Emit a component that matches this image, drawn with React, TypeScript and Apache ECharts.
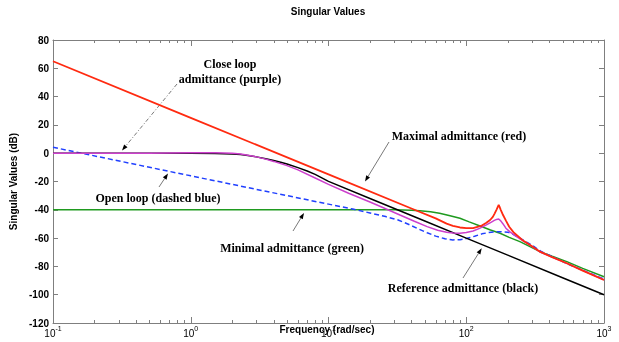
import React, { useEffect, useRef } from "react";
import * as echarts from "echarts";

// ---- data ----
const minorTicks = [
  0.2, 0.3, 0.4, 0.5, 0.6, 0.7, 0.8, 0.9,
  2, 3, 4, 5, 6, 7, 8, 9,
  20, 30, 40, 50, 60, 70, 80, 90,
  200, 300, 400, 500, 600, 700, 800, 900,
];

const redFreq = [0.1, 1, 10, 40, 60, 72, 80, 90, 100, 112, 128, 140, 149, 156, 161, 166, 170, 172, 174, 178, 185, 195, 205, 220, 255, 300, 343, 420, 537, 700, 1000];
const redDb = [65, 25, -15, -39.1, -46.1, -49.8, -51.3, -52.5, -53, -53, -51.4, -49.2, -47.2, -45, -42.5, -39.8, -37.6, -36.6, -37.6, -40, -43.7, -48, -52, -55.8, -61.3, -65.8, -69.6, -73.5, -77.8, -83, -89.6];

const blackFreq = [0.1, 1, 1.5, 2, 2.3, 2.6, 3, 3.5, 4, 4.5, 5, 6, 7, 8, 10, 20, 50, 100, 200, 500, 1000];
const blackDb = [0, -0.05, -0.2, -0.6, -1.0, -1.6, -2.6, -3.9, -5.2, -6.4, -7.6, -10.2, -12.6, -15, -19.9, -32, -47.9, -60, -72, -88, -100];

const purpleFreq = [0.1, 0.5, 1, 1.5, 2, 2.3, 2.6, 3, 3.5, 4, 5, 6, 8, 10, 14, 20, 26, 33, 42, 52, 62, 72, 80, 90, 100, 112, 125, 140, 150, 160, 166, 172, 178, 185, 194, 210, 232, 260, 290, 343, 537, 1000];
const purpleDb = [0, 0, 0.3, 0.4, 0, -0.6, -1.4, -2.6, -4.2, -5.8, -8.8, -11.8, -17.5, -22, -28.3, -34.5, -39.3, -43.7, -48.1, -51.9, -54.4, -55.9, -56.4, -56.6, -56.1, -55, -53.1, -50.7, -49.0, -47.5, -46.8, -46.5, -47.8, -50, -53, -56, -59, -62.2, -64.9, -69.8, -77.9, -89.4];

const blueFreq = [0.1, 1, 5, 10, 15, 20, 26, 32, 38, 45, 52, 60, 70, 80, 90, 100, 115, 130, 145, 160, 180, 200, 215, 230, 260, 300, 350, 537, 1000];
const blueDb = [4.2, -16, -30, -36, -39.5, -42.2, -44.8, -47.2, -50.2, -53.5, -56.2, -58.6, -60.5, -61.3, -61.1, -60.3, -58.7, -57, -56.1, -55.6, -55.5, -55.8, -56.9, -58.5, -61.5, -65, -69.5, -78, -89];

const greenFreq = [0.1, 20, 30, 40, 46, 55, 64, 75, 90, 105, 126, 150, 176, 205, 245, 290, 343, 420, 537, 700, 1000];
const greenDb = [-40, -40, -40, -40.3, -40.6, -41.4, -42.5, -44, -46, -48.5, -51.4, -54.3, -56.6, -59.5, -62.5, -66, -69.6, -72.8, -76.6, -81.4, -87.3];

const yTicks = { min: -120, max: 80, step: 20 };
const xRange = { min: 0.1, max: 1000 };

const SANS = '"Liberation Sans", Arial, sans-serif';
const SERIF = '"Liberation Serif", "Times New Roman", serif';
const AXIS_GRAY = "#7f7f7f";

function pairs(f: number[], v: number[]) {
  return f.map((x, i) => [x, v[i]]);
}

function arrow(x1: number, y1: number, x2: number, y2: number, dash?: number[]) {
  const a = Math.atan2(y2 - y1, x2 - x1);
  const L = 6, W = 2.2;
  const bx = x2 - L * Math.cos(a), by = y2 - L * Math.sin(a);
  const px = -Math.sin(a) * W, py = Math.cos(a) * W;
  return [
    { type: "line", silent: true, shape: { x1, y1, x2: bx, y2: by }, style: { stroke: "#555", lineWidth: 0.8, lineDash: dash } },
    { type: "polygon", silent: true, shape: { points: [[x2, y2], [bx + px, by + py], [bx - px, by - py]] }, style: { fill: "#000" } },
  ];
}

function label(text: string, x: number, y: number) {
  return {
    type: "text",
    silent: true,
    style: { text, x, y, fill: "#000", font: `bold 12px ${SERIF}`, align: "center", verticalAlign: "middle" },
  };
}

export default function App() {
  const ref = useRef<HTMLDivElement>(null);

  useEffect(() => {
    if (!ref.current) return;
    const chart = echarts.init(ref.current, undefined, { renderer: "svg" });

    const lineSeries = (name: string, f: number[], v: number[], color: string, width: number, z: number, extra: any = {}) => ({
      name,
      type: "line",
      data: pairs(f, v),
      showSymbol: false,
      silent: true,
      z,
      lineStyle: { color, width, ...(extra.lineStyle || {}) },
      itemStyle: { color },
      smooth: false,
    });

    const xCommon = {
      type: "log",
      logBase: 10,
      min: xRange.min,
      max: xRange.max,
      splitLine: { show: false },
      axisLine: { show: true, onZero: false, lineStyle: { color: AXIS_GRAY, width: 1 } },
      axisTick: { show: true, inside: true, length: 6, lineStyle: { color: AXIS_GRAY } },
      minorTick: { show: false },
    };
    const yCommon = {
      type: "value",
      min: yTicks.min,
      max: yTicks.max,
      interval: yTicks.step,
      splitLine: { show: false },
      axisLine: { show: true, onZero: false, lineStyle: { color: AXIS_GRAY, width: 1 } },
      axisTick: { show: true, inside: true, length: 5, lineStyle: { color: AXIS_GRAY } },
    };

    chart.setOption({
      animation: false,
      textStyle: { fontFamily: SANS },
      grid: { left: 53, right: 15, top: 40, bottom: 19, containLabel: false, outerBoundsMode: "none" },
      xAxis: [
        {
          ...xCommon,
          position: "bottom",
          axisLabel: {
            margin: 2,
            formatter: (v: number) => `{b|10}{s|${Math.round(Math.log10(v))}}`,
            rich: {
              b: { fontSize: 10, lineHeight: 13, verticalAlign: "bottom", color: "#000", fontFamily: SANS },
              s: { fontSize: 7, lineHeight: 8, verticalAlign: "top", color: "#000", fontFamily: SANS },
            },
          },
        },
        { ...xCommon, position: "top", axisLabel: { show: false } },
      ],
      yAxis: [
        {
          ...yCommon,
          position: "left",
          name: "Singular Values (dB)",
          nameLocation: "middle",
          nameGap: 26,
          nameTextStyle: { fontFamily: SANS, fontSize: 10, fontWeight: "bold", color: "#000" },
          axisLabel: { margin: 4, fontSize: 10, fontWeight: "bold", color: "#000", fontFamily: SANS },
        },
        { ...yCommon, position: "right", axisLabel: { show: false } },
      ],
      series: [
        {
          type: "custom",
          silent: true,
          xAxisIndex: 0,
          yAxisIndex: 0,
          z: 1,
          data: minorTicks.map((t) => [t, 0]),
          encode: { x: 0, y: 1 },
          clip: false,
          renderItem: (params: any, api: any) => {
            const x = Math.round(api.coord([api.value(0), 0])[0]) + 0.5;
            const cs = params.coordSys;
            const yb = cs.y + cs.height;
            const yt = cs.y;
            return {
              type: "group",
              children: [
                { type: "line", shape: { x1: x, y1: yb, x2: x, y2: yb - 3 }, style: { stroke: AXIS_GRAY, lineWidth: 1 } },
                { type: "line", shape: { x1: x, y1: yt, x2: x, y2: yt + 3 }, style: { stroke: AXIS_GRAY, lineWidth: 1 } },
              ],
            };
          },
        },
        lineSeries("Minimal admittance", greenFreq, greenDb, "#1f9a1f", 1.5, 2),
        lineSeries("Open loop", blueFreq, blueDb, "#2040ff", 1.5, 3, { lineStyle: { type: [5, 3] } }),
        lineSeries("Reference admittance", blackFreq, blackDb, "#000000", 1.5, 4),
        lineSeries("Close loop admittance", purpleFreq, purpleDb, "#cc3fcc", 1.5, 5),
        lineSeries("Maximal admittance", redFreq, redDb, "#ff2a10", 1.8, 6),
      ],
      graphic: [
        {
          type: "text",
          silent: true,
          style: { text: "Singular Values", x: 328, y: 11, fill: "#000", font: `bold 10px ${SANS}`, align: "center", verticalAlign: "middle" },
        },
        {
          type: "text",
          silent: true,
          z: 10,
          style: { text: "Frequency (rad/sec)", x: 327, y: 329, fill: "#000", font: `bold 10px ${SANS}`, align: "center", verticalAlign: "middle" },
        },
        label("Close loop", 230, 64),
        label("admittance (purple)", 230, 79),
        label("Open loop (dashed blue)", 158, 198),
        label("Maximal admittance (red)", 459, 136),
        label("Minimal admittance (green)", 292, 248),
        label("Reference admittance (black)", 463, 288),
        ...arrow(177, 84, 122, 150.5, [4, 2, 1, 2]),
        ...arrow(159, 187, 168, 173.5),
        ...arrow(389, 142, 365, 181.5),
        ...arrow(293, 231, 304, 213),
        ...arrow(463, 278, 481.7, 248.3),
      ],
    });

    return () => chart.dispose();
  }, []);

  return <div ref={ref} style={{ position: "fixed", left: 0, top: 0, width: 619, height: 342 }} />;
}
